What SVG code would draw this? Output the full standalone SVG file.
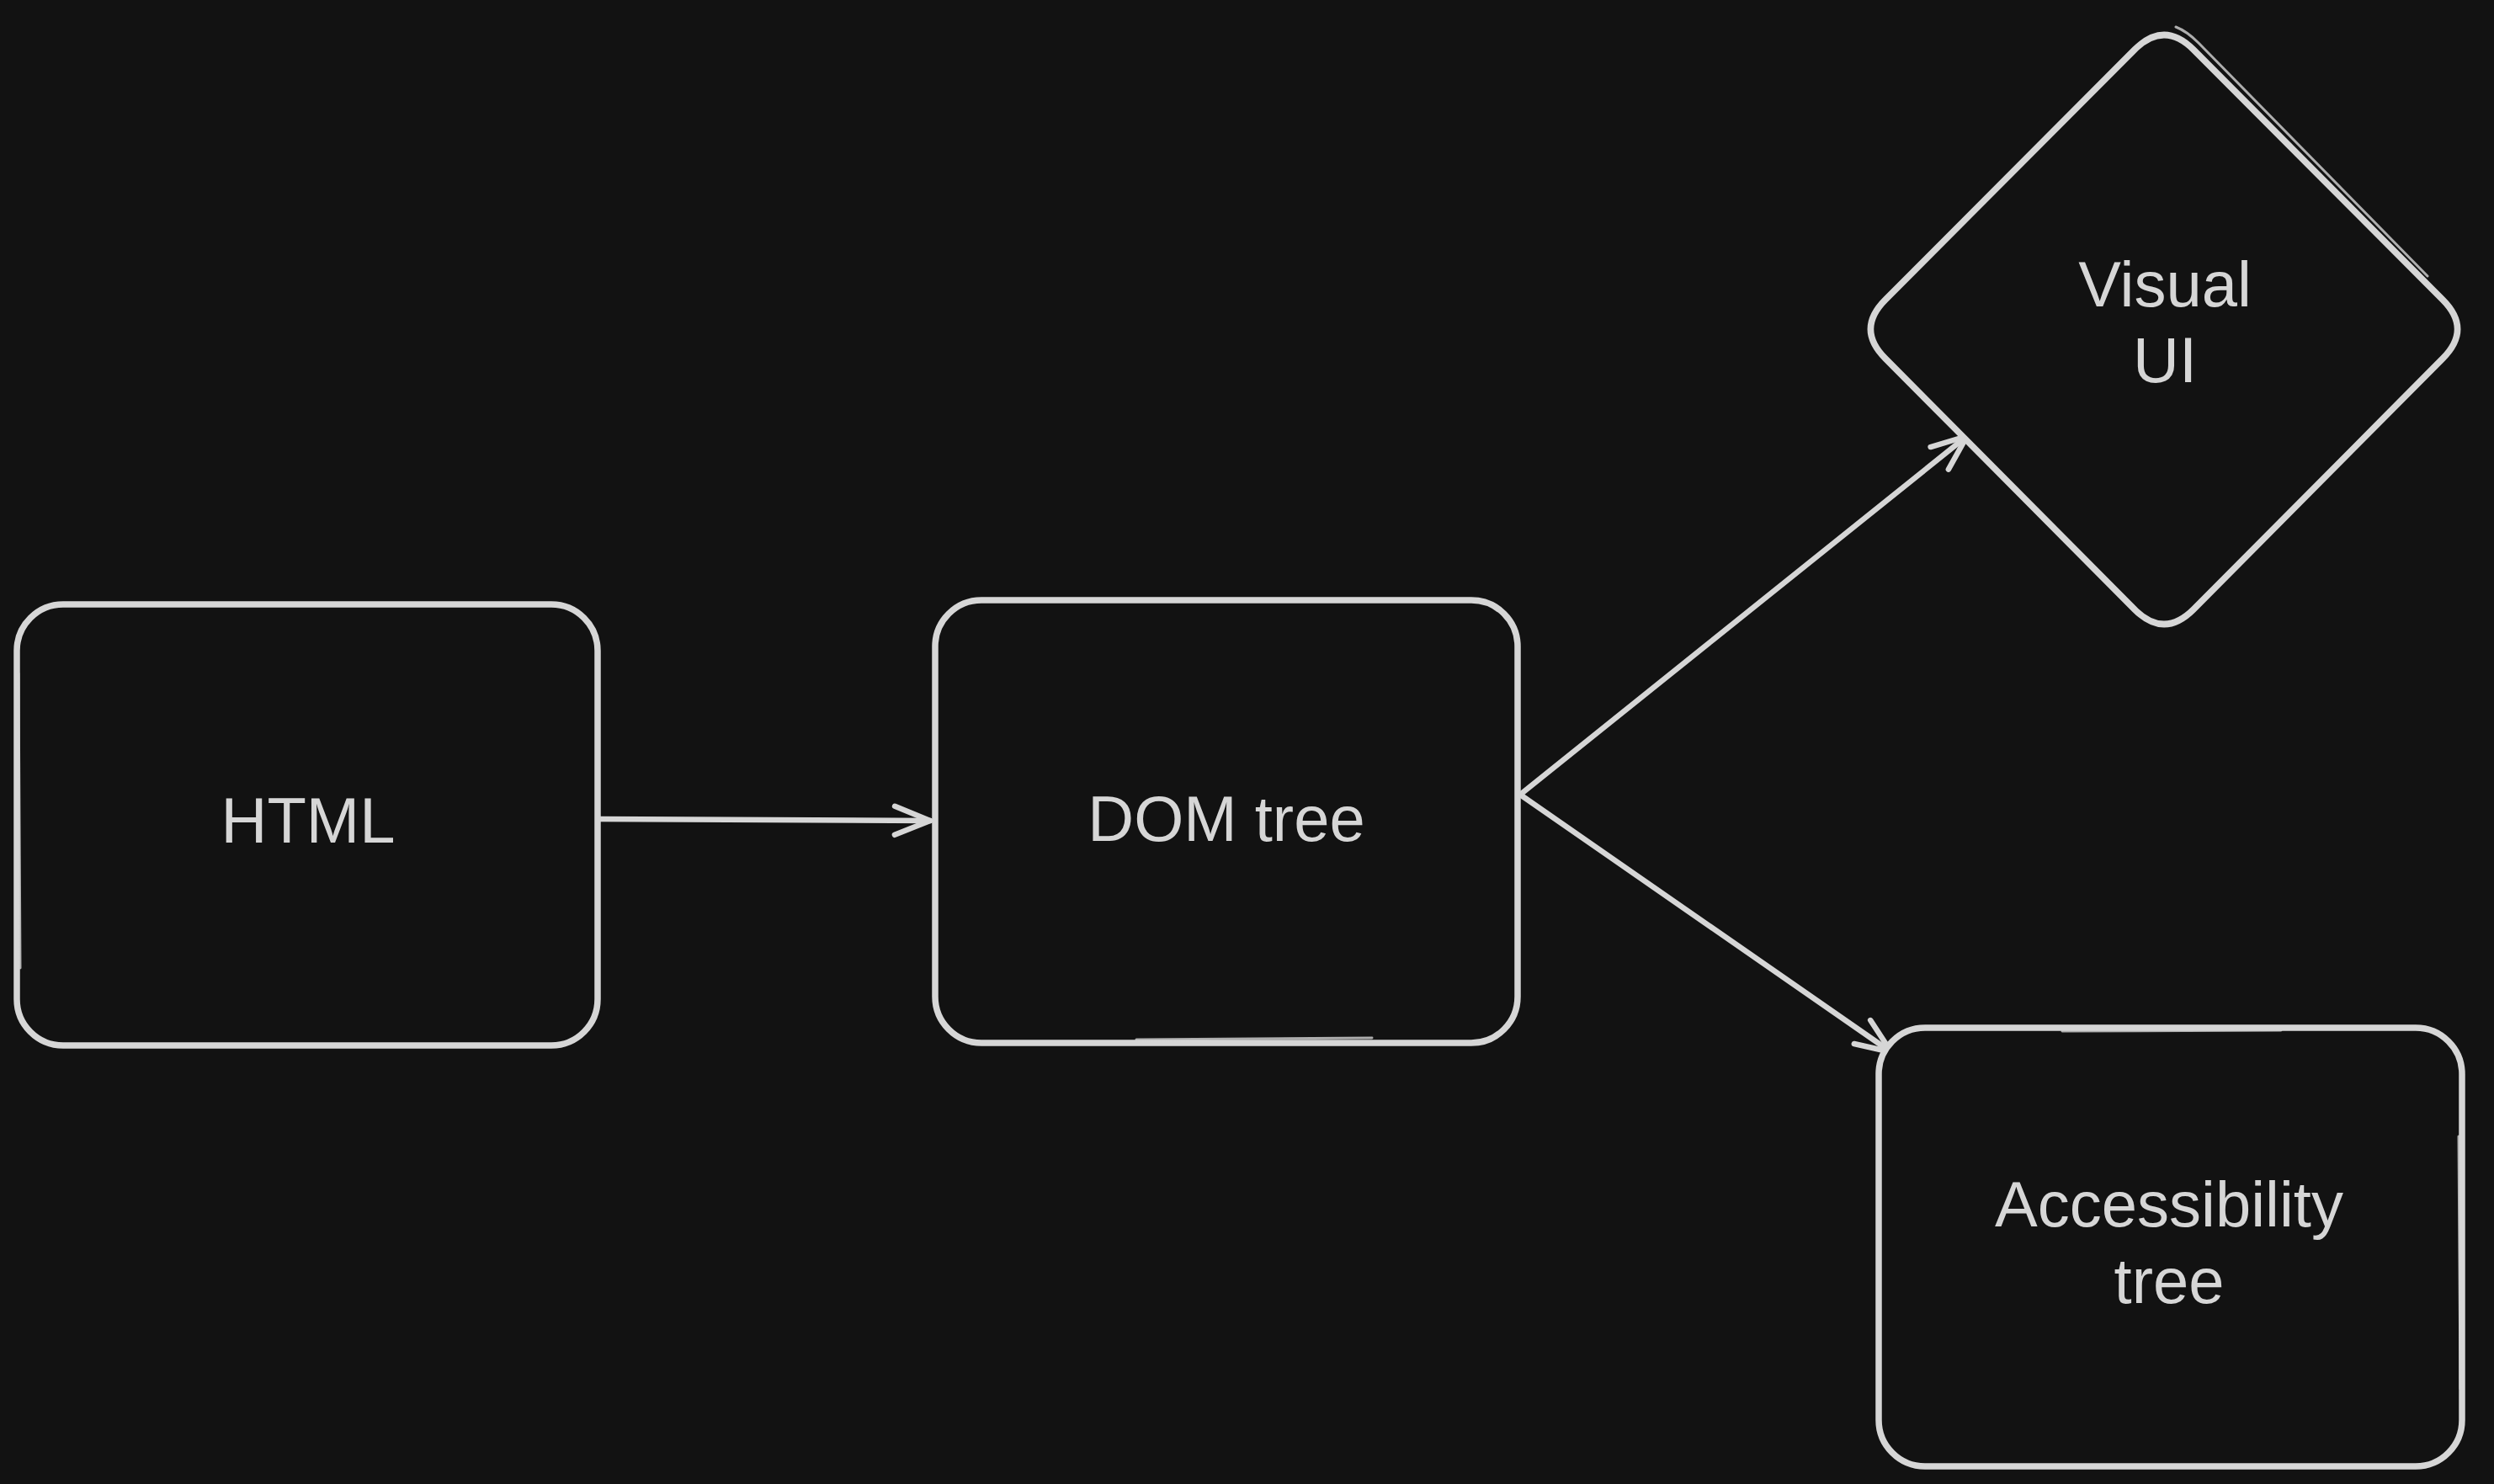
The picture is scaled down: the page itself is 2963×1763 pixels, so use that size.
<svg xmlns="http://www.w3.org/2000/svg" width="2963" height="1763" viewBox="0 0 2963 1763">
<defs>
<style>
.shape{fill:#121212;stroke:#d6d6d6;stroke-width:7.5;stroke-linejoin:round;stroke-linecap:round}
.sketch{fill:none;stroke:#d6d6d6;stroke-width:3;opacity:0.8;stroke-linecap:round}
.conn{fill:none;stroke:#d6d6d6;stroke-width:6.5;stroke-linecap:round}
.label{font-family:"Liberation Sans","Noto Sans",sans-serif;font-size:76px;fill:#d6d6d6;text-anchor:middle}
</style>
<marker id="arrow" markerUnits="userSpaceOnUse" viewBox="-50 -30 60 60" refX="0" refY="0" markerWidth="60" markerHeight="60" orient="auto">
<path d="M -42,-17 L 0,0 L -42,17" fill="none" stroke="#d6d6d6" stroke-width="6.5" stroke-linecap="round" stroke-linejoin="round"/>
</marker>
</defs>
<rect x="0" y="0" width="2963" height="1763" fill="#121212"/>
<g id="connectors">
<path class="conn" d="M 711,973 L 1105,975" marker-end="url(#arrow)"/>
<path class="conn" d="M 1806,944 L 2337,518" marker-end="url(#arrow)"/>
<path class="conn" d="M 1806,944 L 2247,1250" marker-end="url(#arrow)"/>
</g>
<g id="node-html">
<rect class="shape" x="20" y="718" width="690" height="524" rx="55" ry="55"/>
<path class="sketch" d="M 22,800 L 24,1150"/>
<text class="label" x="366" y="1001">HTML</text>
</g>
<g id="node-dom">
<rect class="shape" x="1111" y="713" width="692" height="526" rx="55" ry="55"/>
<path class="sketch" d="M 1350,1235 L 1630,1233"/>
<text class="label" x="1457" y="999">DOM tree</text>
</g>
<g id="node-visual">
<path class="shape" d="M 2606,59 L 2902,356 Q 2937,391 2902,426 L 2606,724 Q 2571,759 2536,724 L 2240,426 Q 2205,391 2240,356 L 2536,59 Q 2571,24 2606,59 Z"/>
<path class="sketch" d="M 2585,32 Q 2598,37 2612,51 L 2884,328"/>
<text class="label" x="2572" y="364">Visual</text>
<text class="label" x="2572" y="454">UI</text>
</g>
<g id="node-accessibility">
<rect class="shape" x="2232" y="1221" width="693" height="521" rx="55" ry="55"/>
<path class="sketch" d="M 2450,1225 L 2710,1224 M 2921,1350 L 2923,1650"/>
<text class="label" x="2577" y="1457">Accessibility</text>
<text class="label" x="2577" y="1548">tree</text>
</g>
</svg>
